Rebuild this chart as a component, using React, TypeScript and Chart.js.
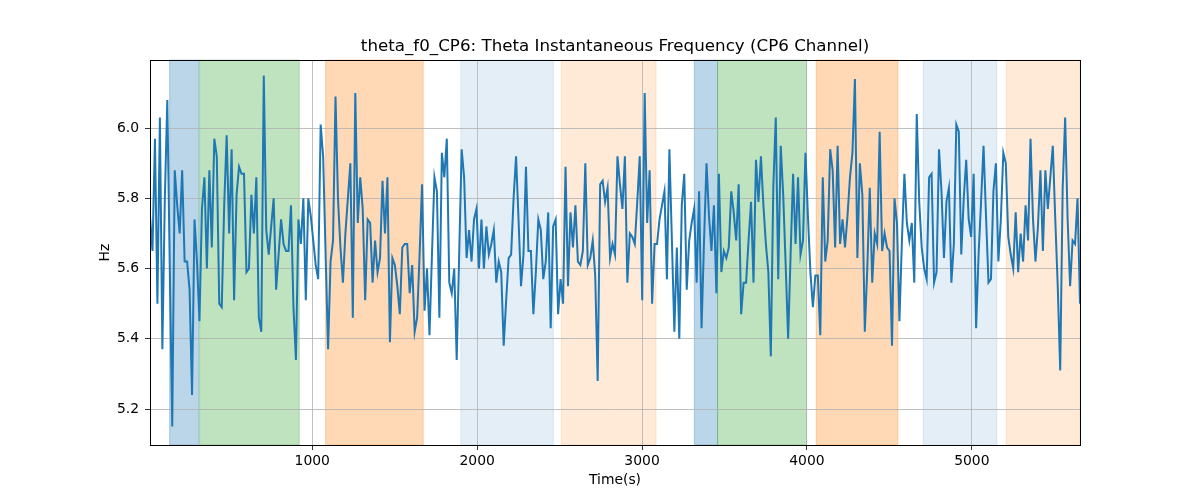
import React, { useEffect, useRef } from 'react';
import { Chart, registerables } from 'chart.js';

Chart.register(...registerables);

// time axis: first sample and sample spacing (s)
const T0 = 16;
const DT = 15;

// theta instantaneous frequency (Hz)
const freq = [
  5.75, 5.65, 5.97, 5.50, 6.03, 5.37, 5.80, 6.08, 5.60, 5.15,
  5.88, 5.78, 5.70, 5.88, 5.62, 5.62, 5.54, 5.24, 5.74, 5.62,
  5.45, 5.77, 5.86, 5.60, 5.88, 5.66, 5.97, 5.92, 5.50, 5.49,
  5.78, 5.98, 5.70, 5.94, 5.51, 5.81, 5.89, 5.87, 5.87, 5.59,
  5.60, 5.81, 5.70, 5.86, 5.46, 5.42, 6.15, 5.71, 5.64,

  5.72, 5.80, 5.54, 5.64, 5.74, 5.67, 5.65, 5.65, 5.78, 5.49,
  5.34, 5.74, 5.67, 5.80, 5.51, 5.80, 5.75, 5.68, 5.61, 5.57,
  6.01, 5.92, 5.64, 5.37, 5.62, 5.68, 6.09, 5.80, 5.66, 5.56,
  5.70, 5.80, 5.90, 5.46, 6.10, 5.73, 5.86, 5.77, 5.51, 5.74,
  5.73, 5.56, 5.68, 5.59, 5.63, 5.85, 5.70, 5.86, 5.39,

  5.63, 5.61, 5.55, 5.47, 5.66, 5.67, 5.67, 5.53, 5.61, 5.42,
  5.46, 5.64, 5.84, 5.48, 5.60, 5.41, 5.64, 5.86, 5.82, 5.46,
  5.93, 5.86, 5.97, 5.56, 5.53, 5.60, 5.34, 5.64, 5.94, 5.86,
  5.63, 5.71, 5.62, 5.74, 5.77, 5.60, 5.74, 5.60, 5.72, 5.64,
  5.67, 5.71, 5.56, 5.62, 5.59, 5.38,

  5.51, 5.63, 5.64, 5.80, 5.92, 5.74, 5.55, 5.64, 5.89, 5.65,
  5.65, 5.47, 5.59, 5.74, 5.71, 5.57, 5.62, 5.76, 5.43, 5.72,
  5.74, 5.47, 5.57, 5.50, 5.89, 5.55, 5.76, 5.66, 5.78, 5.62,
  5.61, 5.65, 5.90, 5.61, 5.63, 5.68, 5.58, 5.28, 5.84, 5.85,
  5.79, 5.83, 5.63, 5.67, 5.64, 5.92, 5.84,

  5.77, 5.92, 5.56, 5.70, 5.69, 5.67, 5.79, 5.92, 5.51, 6.10,
  5.73, 5.88, 5.50, 5.67, 5.67, 5.74, 5.78, 5.82, 5.57, 5.94,
  5.68, 5.42, 5.66, 5.40, 5.78, 5.87, 5.54, 5.68, 5.73, 5.77,
  5.56, 5.82, 5.43, 5.68, 5.90, 5.75, 5.65, 5.78, 5.53, 5.87,
  5.59, 5.65, 5.63, 5.66, 5.82, 5.76,

  5.68, 5.84, 5.47, 5.56, 5.56, 5.68, 5.79, 5.56, 5.91, 5.79,
  5.92, 5.78, 5.67, 5.59, 5.35, 5.83, 6.03, 5.57, 5.95, 5.81,
  5.61, 5.40, 5.64, 5.87, 5.67, 5.86, 5.64, 5.68, 5.93, 5.75,
  5.59, 5.49, 5.58, 5.58, 5.41, 5.86, 5.62, 5.68, 5.94, 5.88,
  5.66, 5.95, 5.67, 5.74, 5.66, 5.75, 5.86,

  5.93, 6.14, 5.63, 5.90, 5.81, 5.42, 5.60, 5.83, 5.56, 5.70,
  5.67, 5.99, 5.65, 5.70, 5.66, 5.65, 5.38, 5.80, 5.73, 5.45,
  5.68, 5.87, 5.73, 5.68, 5.73, 5.56, 6.04, 5.79, 5.66, 5.60,
  5.57, 5.86, 5.87, 5.56, 5.59, 5.94, 5.82, 5.63, 5.79, 5.83,
  5.56, 5.67, 6.01, 5.99, 5.64, 5.80,

  5.91, 5.74, 5.69, 5.87, 5.43, 5.64, 5.79, 5.95, 5.75, 5.56,
  5.57, 5.82, 5.90, 5.62, 5.74, 5.93, 5.90, 5.69, 5.64, 5.60,
  5.76, 5.59, 5.70, 5.62, 5.78, 5.68, 5.97, 5.74, 5.62, 5.72,
  5.88, 5.65, 5.88, 5.77, 5.86, 5.95, 5.74, 5.55, 5.31, 5.83,
  6.03, 5.74, 5.55, 5.68, 5.67, 5.80, 5.50,
];

const time = freq.map((_, i) => T0 + i * DT);

const xTicks = [1000, 2000, 3000, 4000, 5000];
const yTicks = [5.2, 5.4, 5.6, 5.8, 6.0];
const yMin = 5.0975;
const yMax = 6.194;

// shaded epochs (s)
const bandStart = [135, 317, 1081, 1901, 2511, 3317, 3458, 4056, 4705, 5208];
const bandEnd = [312, 921, 1673, 2462, 3085, 3458, 3998, 4552, 5152, 5656];
const bandColor = [
  'rgba(31,119,180,0.3)',
  'rgba(44,160,44,0.3)',
  'rgba(255,127,14,0.3)',
  'rgba(31,119,180,0.12)',
  'rgba(255,127,14,0.16)',
  'rgba(31,119,180,0.3)',
  'rgba(44,160,44,0.3)',
  'rgba(255,127,14,0.3)',
  'rgba(31,119,180,0.12)',
  'rgba(255,127,14,0.16)',
];

const FONT = "'DejaVu Sans', sans-serif";

const bandsPlugin = {
  id: 'bands',
  beforeDraw(chart: any) {
    const { ctx, chartArea, scales } = chart;
    ctx.save();
    ctx.fillStyle = '#fff';
    ctx.fillRect(0, 0, chart.width, chart.height);
    const xs = scales.x;
    for (let i = 0; i < bandStart.length; i++) {
      const x1 = Math.max(chartArea.left, xs.getPixelForValue(bandStart[i]));
      const x2 = Math.min(chartArea.right, xs.getPixelForValue(bandEnd[i]));
      ctx.fillStyle = bandColor[i];
      ctx.fillRect(x1, chartArea.top, x2 - x1, chartArea.bottom - chartArea.top);
      ctx.strokeStyle = bandColor[i];
      ctx.lineWidth = 1;
      ctx.strokeRect(x1, chartArea.top, x2 - x1, chartArea.bottom - chartArea.top);
    }
    ctx.restore();
  },
  afterDatasetsDraw(chart: any) {
    const { ctx, chartArea } = chart;
    ctx.save();
    ctx.strokeStyle = '#000';
    ctx.lineWidth = 1;
    ctx.strokeRect(
      Math.round(chartArea.left) + 0.5,
      Math.round(chartArea.top) + 0.5,
      Math.round(chartArea.right - chartArea.left),
      Math.round(chartArea.bottom - chartArea.top)
    );
    ctx.restore();
  },
};

export default function App() {
  const chartRef = useRef<HTMLCanvasElement>(null);
  const chartInstance = useRef<Chart | null>(null);

  useEffect(() => {
    document.body.style.margin = '0';
    if (!chartRef.current) return;
    if (chartInstance.current) chartInstance.current.destroy();
    const ctx = chartRef.current.getContext('2d');
    if (!ctx) return;

    chartInstance.current = new Chart(ctx, {
      type: 'line',
      data: {
        datasets: [
          {
            label: 'theta_f0_CP6',
            data: time.map((t, i) => ({ x: t, y: freq[i] })),
            borderColor: '#1f77b4',
            borderWidth: 2,
            pointRadius: 0,
            tension: 0,
          },
        ],
      },
      options: {
        responsive: true,
        maintainAspectRatio: false,
        animation: false,
        devicePixelRatio: 1,
        layout: { padding: { left: 0, right: 120, top: 0, bottom: 0 } },
        plugins: {
          legend: { display: false },
          tooltip: { enabled: false },
          title: {
            display: true,
            text: 'theta_f0_CP6: Theta Instantaneous Frequency (CP6 Channel)',
            fullSize: false,
            color: '#000',
            font: { family: FONT, size: 16.7, weight: 'normal' },
            padding: { top: 36.8, bottom: 3.2 },
          },
        },
        scales: {
          x: {
            type: 'linear',
            min: time[0],
            max: time[time.length - 1],
            afterBuildTicks: (s: any) => {
              s.ticks = xTicks.map((v) => ({ value: v }));
            },
            afterFit: (s: any) => {
              s.height = 55;
            },
            ticks: {
              autoSkip: false,
              maxRotation: 0,
              padding: 3,
              color: '#000',
              font: { family: FONT, size: 13.9 },
              callback: (v: any) => String(v),
            },
            grid: { color: '#b0b0b0', lineWidth: 0.8, tickColor: '#000', tickLength: 5 },
            border: { color: '#000', width: 1 },
            title: {
              display: true,
              text: 'Time(s)',
              color: '#000',
              font: { family: FONT, size: 13.9 },
              padding: { top: 0, bottom: 11.2 },
            },
          },
          y: {
            type: 'linear',
            min: yMin,
            max: yMax,
            afterBuildTicks: (s: any) => {
              s.ticks = yTicks.map((v) => ({ value: v }));
            },
            afterFit: (s: any) => {
              s.width = 150;
            },
            ticks: {
              autoSkip: false,
              padding: 6,
              color: '#000',
              font: { family: FONT, size: 13.9 },
              callback: (v: any) => Number(v).toFixed(1),
            },
            grid: { color: '#b0b0b0', lineWidth: 0.8, tickColor: '#000', tickLength: 5 },
            border: { color: '#000', width: 1 },
            title: {
              display: true,
              text: 'Hz',
              color: '#000',
              font: { family: FONT, size: 13.9 },
              padding: { top: 96.7, bottom: 0 },
            },
          },
        },
      },
      plugins: [bandsPlugin],
    });

    return () => {
      if (chartInstance.current) {
        chartInstance.current.destroy();
        chartInstance.current = null;
      }
    };
  }, []);

  return (
    <div style={{ width: 1200, height: 500, position: 'relative', background: '#fff' }}>
      <canvas ref={chartRef} />
    </div>
  );
}
